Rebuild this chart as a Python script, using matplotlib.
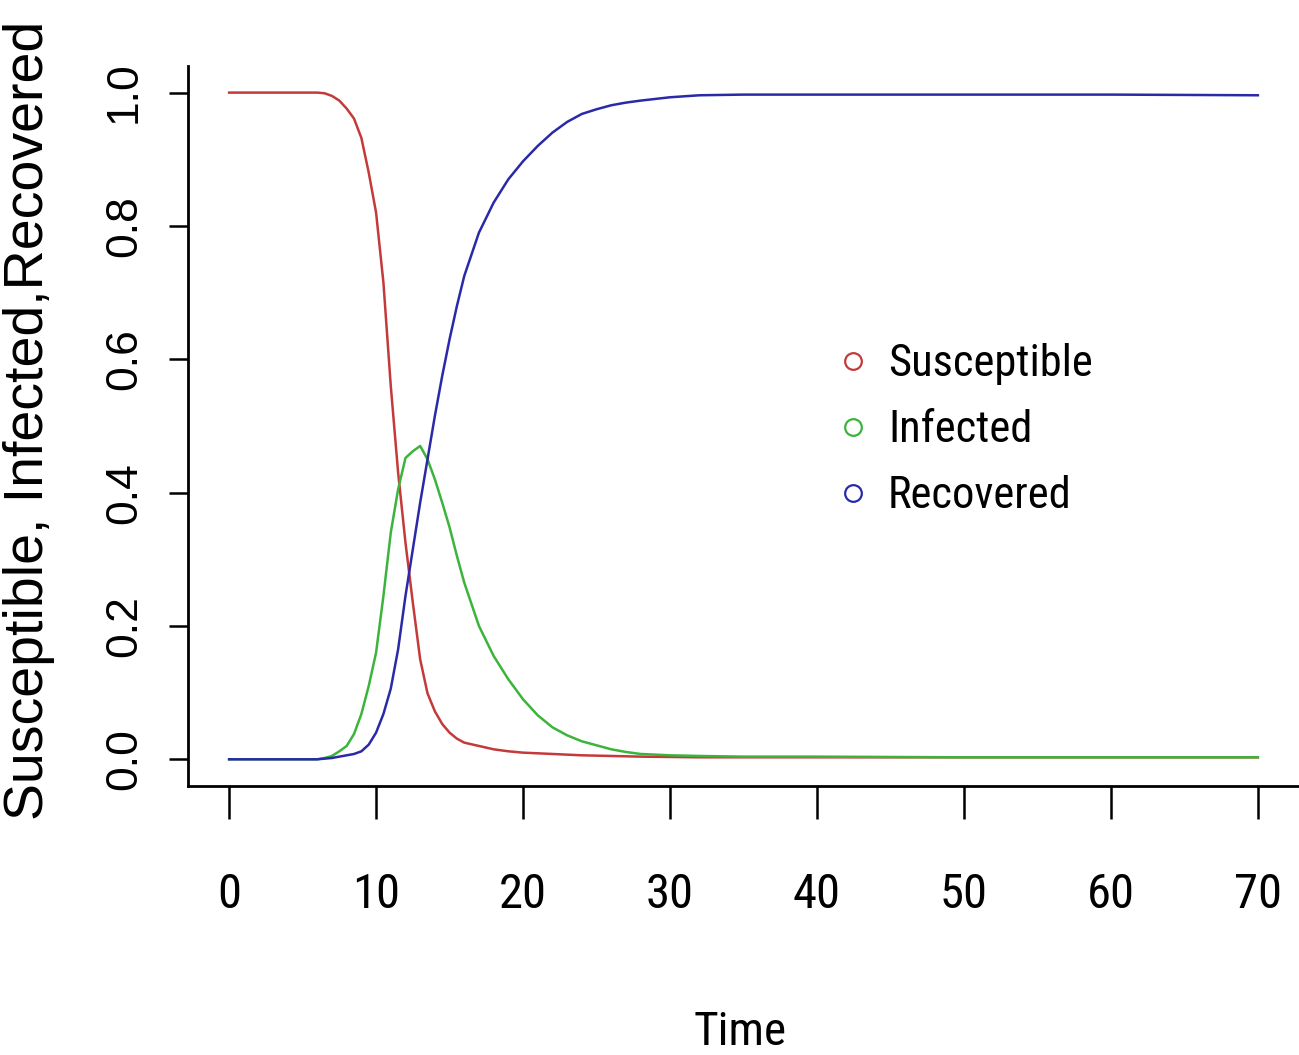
import matplotlib
matplotlib.use("Agg")
import matplotlib.pyplot as plt
from matplotlib.lines import Line2D
from matplotlib import font_manager as fm

# SIR model output
time = [0, 6, 6.5, 7, 7.5, 8, 8.5, 9, 9.5, 10, 10.5, 11, 11.5, 12, 12.5, 13,
        13.5, 14, 14.5, 15, 15.5, 16, 17, 18, 19, 20, 21, 22, 23, 24, 25, 26,
        27, 28, 30, 32, 35, 40, 50, 60, 70]
susceptible = [1.0, 1.0, 0.999, 0.995, 0.988, 0.976, 0.961, 0.932, 0.88, 0.82,
               0.715, 0.56, 0.43, 0.325, 0.235, 0.15, 0.099, 0.072, 0.053,
               0.04, 0.031, 0.025, 0.02, 0.015, 0.012, 0.010, 0.009, 0.008,
               0.007, 0.006, 0.0055, 0.005, 0.0045, 0.004, 0.0035, 0.003,
               0.003, 0.003, 0.003, 0.003, 0.003]
infected = [0, 0, 0.002, 0.005, 0.012, 0.02, 0.038, 0.068, 0.11, 0.16, 0.245,
            0.34, 0.405, 0.452, 0.462, 0.47, 0.45, 0.42, 0.385, 0.348, 0.305,
            0.265, 0.2, 0.155, 0.12, 0.09, 0.066, 0.048, 0.036, 0.027, 0.021,
            0.015, 0.011, 0.008, 0.006, 0.005, 0.004, 0.004, 0.003, 0.003,
            0.003]
recovered = [0, 0, 0.001, 0.002, 0.004, 0.006, 0.008, 0.012, 0.022, 0.04,
             0.068, 0.106, 0.165, 0.245, 0.315, 0.385, 0.45, 0.515, 0.575,
             0.63, 0.68, 0.725, 0.79, 0.835, 0.87, 0.897, 0.92, 0.94, 0.956,
             0.968, 0.975, 0.981, 0.985, 0.988, 0.993, 0.996, 0.997, 0.997,
             0.997, 0.997, 0.996]

labels = ['Susceptible', 'Infected', 'Recovered']
colors = ['#c43a3a', '#3cb43c', '#2a2aa8']
xticks = [0, 10, 20, 30, 40, 50, 60, 70]
yticks = [0.0, 0.2, 0.4, 0.6, 0.8, 1.0]


def pick_font(wanted, condensed):
    # look through installed fonts, return the file of the first match
    fonts = fm.fontManager.ttflist
    for name in wanted:
        for f in fonts:
            if f.name == name and f.style == 'normal' and f.weight in (400, 'normal', 'regular'):
                if condensed or f.stretch in ('normal', 500):
                    return f.fname
    if condensed:
        for f in fonts:
            if f.style == 'normal' and f.weight in (400, 'normal', 'regular') and \
               ('condensed' in str(f.stretch) or 'narrow' in f.fname.lower()
                    or 'condensed' in f.fname.lower()):
                return f.fname
    return None


narrow_file = pick_font(['Liberation Sans Narrow', 'Arial Narrow',
                         'Roboto Condensed', 'Open Sans Condensed'], True)
regular_file = pick_font(['Liberation Sans', 'Arial'], False)

if regular_file:
    reg = lambda s: fm.FontProperties(fname=regular_file, size=s)
else:
    reg = lambda s: fm.FontProperties(family='DejaVu Sans', size=s)
if narrow_file:
    nar = lambda s: fm.FontProperties(fname=narrow_file, size=s)
    nscale = 1.0
else:
    nar = reg
    nscale = 0.85

fig = plt.figure(figsize=(12.99, 10.55), dpi=100)
ax = fig.add_axes([0.1447, 0.255, 0.8553, 0.6825])

for ys, c in zip([susceptible, infected, recovered], colors):
    ax.plot(time, ys, color=c, lw=1.8)

ax.set_xlim(-2.8, 72.8)
ax.set_ylim(-0.04, 1.04)
ax.spines['top'].set_visible(False)
ax.spines['right'].set_visible(False)
ax.spines['left'].set_linewidth(2)
ax.spines['bottom'].set_linewidth(2)

ax.set_xticks(xticks)
ax.set_xticklabels([str(t) for t in xticks], fontproperties=nar(35 * nscale))
ax.set_yticks(yticks)
ax.set_yticklabels([f'{t:.1f}' for t in yticks], fontproperties=reg(32),
                   rotation=90, va='center')
ax.tick_params(axis='x', length=24, width=1.8, pad=38)
ax.tick_params(axis='y', length=14, width=1.8, pad=17)

fig.text(0.0225, 0.602, 'Susceptible, Infected,Recovered', rotation=90,
         ha='center', va='center', fontproperties=reg(40))
fig.text(0.57, 0.022, 'Time', ha='center', va='center',
         fontproperties=nar(34 * nscale))

handles = [Line2D([], [], ls='none', marker='o', mfc='none', mec=c, ms=12,
                  mew=1.6) for c in colors]
ax.legend(handles, labels, loc='upper left', bbox_to_anchor=(0.584, 0.615),
          frameon=False, prop=nar(32 * nscale),
          handlelength=0.75, handletextpad=0.4, labelspacing=0.54,
          borderpad=0, borderaxespad=0)

fig.savefig('out.png', dpi=100)
